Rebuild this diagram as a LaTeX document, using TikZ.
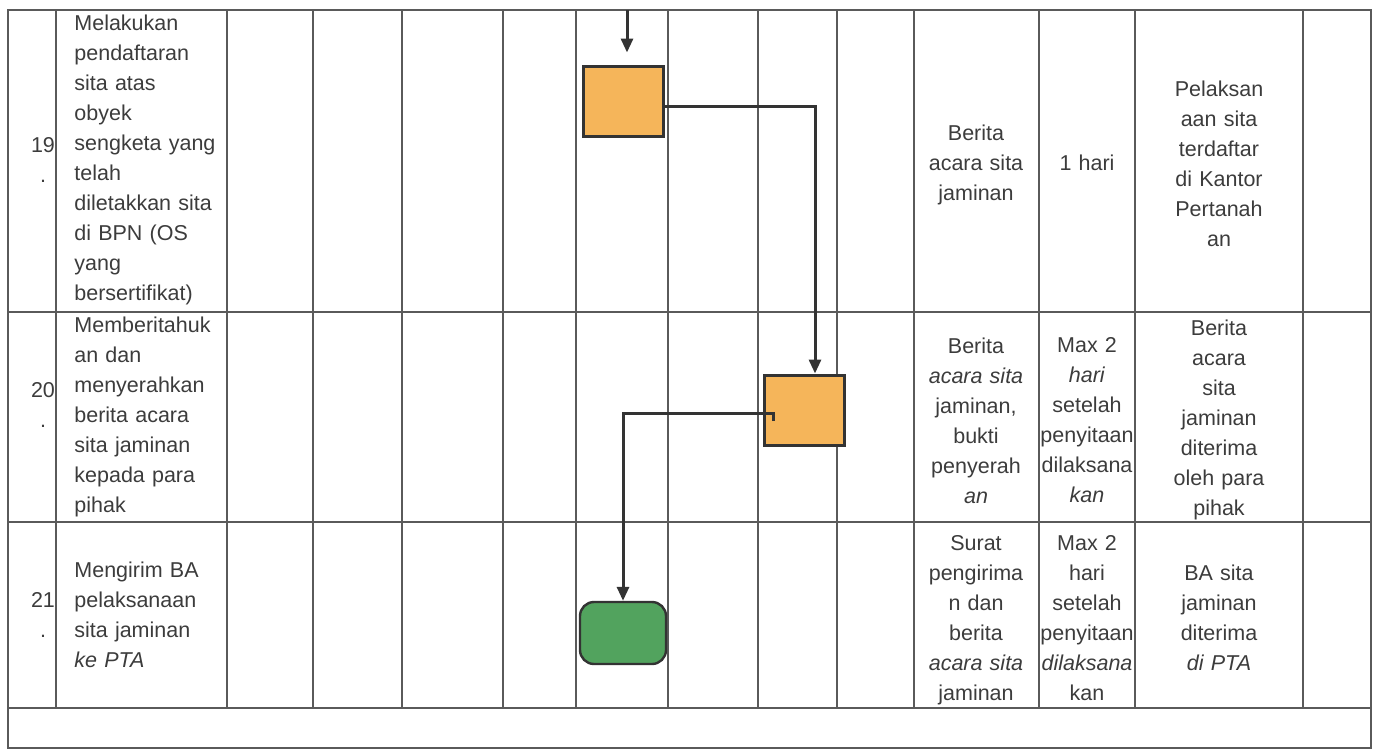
\documentclass[tikz,border=0pt]{standalone}
\usepackage{fontspec}
\setmainfont{Liberation Sans}
\usetikzlibrary{arrows.meta}

\definecolor{gridgray}{HTML}{5A5A5A}
\definecolor{inkgray}{HTML}{3C3C3C}
\definecolor{boxorange}{HTML}{F5B55A}
\definecolor{boxgreen}{HTML}{52A35E}

\tikzset{
  gridline/.style={draw=gridgray, line width=0.6pt},
  celltext/.style={align=center, text width=#1, inner sep=0pt, text=inkgray,
    font=\fontsize{10.75}{15}\selectfont},
  steptext/.style={align=left, text width=74pt, anchor=west, inner sep=0pt, text=inkgray,
    font=\fontsize{10.75}{15}\selectfont},
  stepbox/.style={shape=rectangle, draw=black!80, line width=1.5pt, fill=boxorange,
    minimum width=40pt, minimum height=35pt, inner sep=0pt},
  endbox/.style={shape=rectangle, rounded corners=7pt, draw=black!80, line width=1.2pt,
    fill=boxgreen, minimum width=43pt, minimum height=31pt, inner sep=0pt},
  flow/.style={-{Triangle[width=6pt,length=7pt]}, line width=1.5pt, draw=black!80}
}

\begin{document}
\begin{tikzpicture}[x=0.5pt, y=-0.5pt]
    \useasboundingbox (0,0) rectangle (1380,751);

    % table frame and rules
    \draw[gridline] (8,10) rectangle (1371,748);
    \draw[gridline] (8,312) -- (1371,312) (8,522) -- (1371,522) (8,708) -- (1371,708);
    \draw[gridline] (56,10) -- (56,708) (227,10) -- (227,708) (313,10) -- (313,708)
        (402,10) -- (402,708) (503,10) -- (503,708) (576,10) -- (576,708)
        (668,10) -- (668,708) (758,10) -- (758,708) (837,10) -- (837,708)
        (914,10) -- (914,708) (1039,10) -- (1039,708) (1135,10) -- (1135,708)
        (1303,10) -- (1303,708);

    % row 19
    \node[celltext=15pt] at (43,160) (N19) {19\\.};
    \node[steptext] at (74,160) (S19) {Melakukan\\pendaftaran\\sita atas\\obyek\\sengketa yang\\telah\\diletakkan sita\\di BPN (OS\\yang\\bersertifikat)};
    \node[celltext=58pt] at (976,165) (D19) {Berita\\acara sita\\jaminan};
    \node[celltext=47pt] at (1087,163) (T19) {1 hari};
    \node[celltext=80pt] at (1219,164) (O19) {Pelaksan\\aan sita\\terdaftar\\di Kantor\\Pertanah\\an};

    % row 20
    \node[celltext=15pt] at (43,405) (N20) {20\\.};
    \node[steptext] at (74,417) (S20) {Memberitahuk\\an dan\\menyerahkan\\berita acara\\sita jaminan\\kepada para\\pihak};
    \node[celltext=58pt] at (976,421) (D20) {Berita\\\textit{acara sita}\\jaminan,\\bukti\\penyerah\\\textit{an}};
    \node[celltext=47pt] at (1087,420) (T20) {Max 2\\\textit{hari}\\setelah\\penyitaan\\dilaksana\\\textit{kan}};
    \node[celltext=80pt] at (1219,420) (O20) {Berita\\acara\\sita\\jaminan\\diterima\\oleh para\\pihak};

    % row 21
    \node[celltext=15pt] at (43,615) (N21) {21\\.};
    \node[steptext] at (74,615) (S21) {Mengirim BA\\pelaksanaan\\sita jaminan\\\textit{ke PTA}};
    \node[celltext=58pt] at (976,620) (D21) {Surat\\pengirima\\n dan\\berita\\\textit{acara sita}\\jaminan};
    \node[celltext=47pt] at (1087,618) (T21) {Max 2\\hari\\setelah\\penyitaan\\\textit{dilaksana}\\kan};
    \node[celltext=80pt] at (1219,618) (O21) {BA sita\\jaminan\\diterima\\\textit{di PTA}};

    % flow shapes
    \node[stepbox] at (623,101) (box19) {};
    \node[stepbox] at (804,410) (box20) {};
    \node[endbox] at (623,633) (end21) {};

    \coordinate (in19) at (627,10);
    \coordinate (hook20) at (773,421);
    \draw[flow, shorten >=6pt] (in19) -- (in19 |- box19.north);
    \draw[flow] ([yshift=-2.5pt]box19.east) -| ([xshift=5.5pt]box20.north);
    \draw[flow] (hook20) -- ++(0,-8) -| (end21.north);
\end{tikzpicture}
\end{document}
